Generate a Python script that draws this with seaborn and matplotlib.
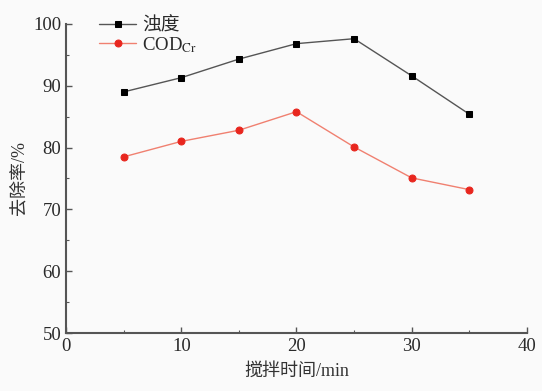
import matplotlib
matplotlib.use("Agg")
import matplotlib.pyplot as plt
import seaborn as sns
import pandas as pd
from matplotlib.ticker import MultipleLocator

# Removal rate versus stirring time
stir_time = [5, 10, 15, 20, 25, 30, 35]
turbidity = [89.0, 91.3, 94.3, 96.8, 97.6, 91.6, 85.4]
cod_cr = [78.5, 81.0, 82.8, 85.8, 80.1, 75.1, 73.2]
labels = ["浊度", r"COD$_{\mathrm{Cr}}$"]

sns.set_style("ticks")
plt.rcParams["font.family"] = ["Liberation Serif", "Noto Sans CJK SC"]
plt.rcParams["mathtext.fontset"] = "stix"

df = pd.DataFrame({"t": stir_time, "turb": turbidity, "cod": cod_cr})

fig = plt.figure(figsize=(5.42, 3.91), dpi=100, facecolor="#fafafa")
ax = fig.add_axes([0.122, 0.148, 0.850, 0.791])
ax.set_facecolor("#fafafa")

sns.lineplot(data=df, x="t", y="turb", ax=ax, color="#555555", lw=1.0,
             marker="s", markersize=4.5, markerfacecolor="black",
             markeredgecolor="black", label=labels[0])
sns.lineplot(data=df, x="t", y="cod", ax=ax, color="#f08070", lw=1.0,
             marker="o", markersize=5, markerfacecolor="#e8261e",
             markeredgecolor="#e8261e", label=labels[1])

ax.set_xlim(0, 40)
ax.set_ylim(50, 100)
ax.xaxis.set_major_locator(MultipleLocator(10))
ax.xaxis.set_minor_locator(MultipleLocator(5))
ax.yaxis.set_major_locator(MultipleLocator(10))
ax.yaxis.set_minor_locator(MultipleLocator(5))
ax.tick_params(which="major", direction="in", length=4, width=1.0,
               color="#555555", labelsize=13.5, labelcolor="#2a2a2a")
ax.tick_params(which="minor", direction="in", length=2, width=0.8,
               color="#555555")
for side in ("top", "right"):
    ax.spines[side].set_visible(False)
for side in ("left", "bottom"):
    ax.spines[side].set_color("#555555")
    ax.spines[side].set_linewidth(1.5)

ax.set_xlabel("搅拌时间/min", fontsize=13, color="#333333", labelpad=6)
ax.set_ylabel("去除率/%", fontsize=13, color="#333333", labelpad=4)

leg = ax.legend(loc="upper left", bbox_to_anchor=(0.055, 1.045), frameon=False,
                fontsize=13.5, handlelength=2.0, handletextpad=0.3,
                labelspacing=0.0, borderaxespad=0)
for t in leg.get_texts():
    t.set_color("#2a2a2a")

fig.savefig("out.png", dpi=100, facecolor=fig.get_facecolor())
